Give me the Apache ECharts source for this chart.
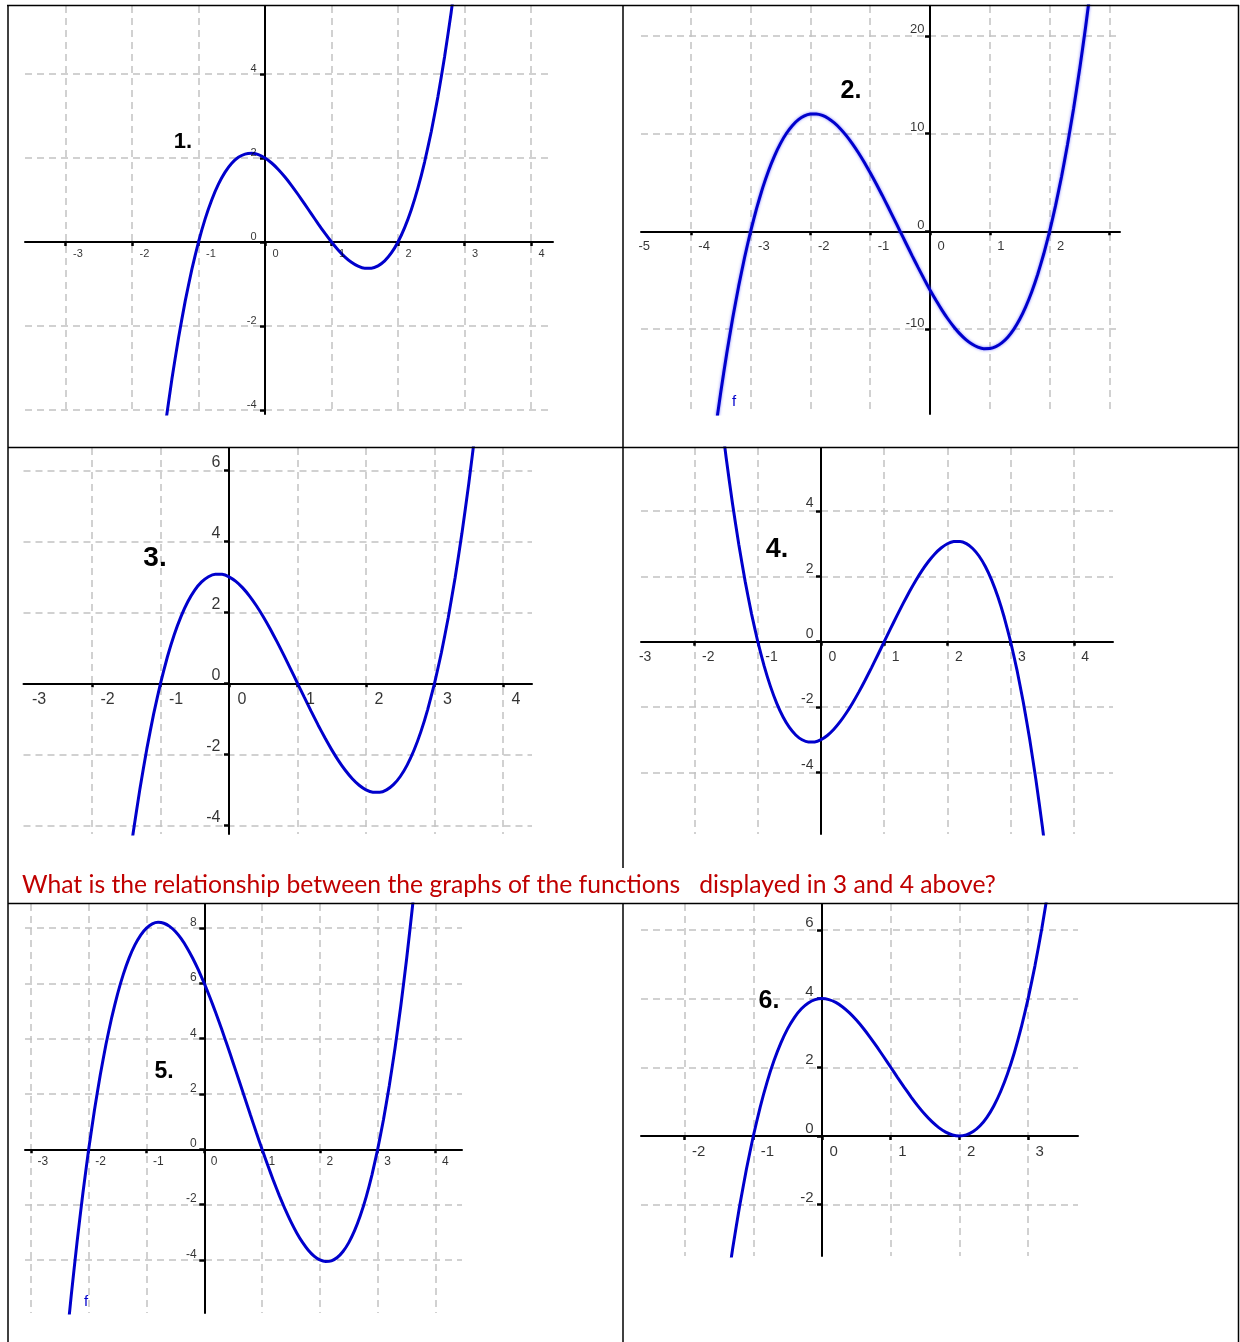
<!DOCTYPE html>
<html>
<head>
<meta charset="utf-8">
<script src="https://cdn.jsdelivr.net/npm/echarts@6/dist/echarts.min.js"></script>
<style>
html, body { margin: 0; padding: 0; background: #fff; }
#main { width: 1240px; height: 1342px; }
</style>
</head>
<body>
<div id="main"></div>
<script>
// points (x step 0.1)
const x1 = [-1.6, -1.5, -1.4, -1.3, -1.2, -1.1, -1, -0.9, -0.8, -0.7, -0.6, -0.5, -0.4, -0.3, -0.2, -0.1, 0, 0.1, 0.2, 0.3, 0.4, 0.5, 0.6, 0.7, 0.8, 0.9, 1, 1.1, 1.2, 1.3, 1.4, 1.5, 1.6, 1.7, 1.8, 1.9, 2, 2.1, 2.2, 2.3, 2.4, 2.5, 2.6, 2.7, 2.8, 2.9, 3];
const y1 = [-5.616, -4.375, -3.264, -2.277, -1.408, -0.651, 0, 0.551, 1.008, 1.377, 1.664, 1.875, 2.016, 2.093, 2.112, 2.079, 2, 1.881, 1.728, 1.547, 1.344, 1.125, 0.896, 0.663, 0.432, 0.209, 0, -0.189, -0.352, -0.483, -0.576, -0.625, -0.624, -0.567, -0.448, -0.261, 0, 0.341, 0.768, 1.287, 1.904, 2.625, 3.456, 4.403, 5.472, 6.669, 8];

const x2 = [-3.7, -3.6, -3.5, -3.4, -3.3, -3.2, -3.1, -3, -2.9, -2.8, -2.7, -2.6, -2.5, -2.4, -2.3, -2.2, -2.1, -2, -1.9, -1.8, -1.7, -1.6, -1.5, -1.4, -1.3, -1.2, -1.1, -1, -0.9, -0.8, -0.7, -0.6, -0.5, -0.4, -0.3, -0.2, -0.1, 0, 0.1, 0.2, 0.3, 0.4, 0.5, 0.6, 0.7, 0.8, 0.9, 1, 1.1, 1.2, 1.3, 1.4, 1.5, 1.6, 1.7, 1.8, 1.9, 2, 2.1, 2.2, 2.3, 2.4, 2.5, 2.6, 2.7];
const y2 = [-25.536, -20.832, -16.5, -12.528, -8.904, -5.616, -2.652, 0, 2.352, 4.416, 6.204, 7.728, 9, 10.032, 10.836, 11.424, 11.808, 12, 12.012, 11.856, 11.544, 11.088, 10.5, 9.792, 8.976, 8.064, 7.068, 6, 4.872, 3.696, 2.484, 1.248, 0, -1.248, -2.484, -3.696, -4.872, -6, -7.068, -8.064, -8.976, -9.792, -10.5, -11.088, -11.544, -11.856, -12.012, -12, -11.808, -11.424, -10.836, -10.032, -9, -7.728, -6.204, -4.416, -2.352, 0, 2.652, 5.616, 8.904, 12.528, 16.5, 20.832, 25.536];

const x3 = [-1.7, -1.6, -1.5, -1.4, -1.3, -1.2, -1.1, -1, -0.9, -0.8, -0.7, -0.6, -0.5, -0.4, -0.3, -0.2, -0.1, 0, 0.1, 0.2, 0.3, 0.4, 0.5, 0.6, 0.7, 0.8, 0.9, 1, 1.1, 1.2, 1.3, 1.4, 1.5, 1.6, 1.7, 1.8, 1.9, 2, 2.1, 2.2, 2.3, 2.4, 2.5, 2.6, 2.7, 2.8, 2.9, 3, 3.1, 3.2, 3.3, 3.4, 3.5, 3.6, 3.7];
const y3 = [-8.883, -7.176, -5.625, -4.224, -2.967, -1.848, -0.861, 0, 0.741, 1.368, 1.887, 2.304, 2.625, 2.856, 3.003, 3.072, 3.069, 3, 2.871, 2.688, 2.457, 2.184, 1.875, 1.536, 1.173, 0.792, 0.399, 0, -0.399, -0.792, -1.173, -1.536, -1.875, -2.184, -2.457, -2.688, -2.871, -3, -3.069, -3.072, -3.003, -2.856, -2.625, -2.304, -1.887, -1.368, -0.741, 0, 0.861, 1.848, 2.967, 4.224, 5.625, 7.176, 8.883];

const x4 = [-1.7, -1.6, -1.5, -1.4, -1.3, -1.2, -1.1, -1, -0.9, -0.8, -0.7, -0.6, -0.5, -0.4, -0.3, -0.2, -0.1, 0, 0.1, 0.2, 0.3, 0.4, 0.5, 0.6, 0.7, 0.8, 0.9, 1, 1.1, 1.2, 1.3, 1.4, 1.5, 1.6, 1.7, 1.8, 1.9, 2, 2.1, 2.2, 2.3, 2.4, 2.5, 2.6, 2.7, 2.8, 2.9, 3, 3.1, 3.2, 3.3, 3.4, 3.5, 3.6, 3.7];
const y4 = [8.883, 7.176, 5.625, 4.224, 2.967, 1.848, 0.861, 0, -0.741, -1.368, -1.887, -2.304, -2.625, -2.856, -3.003, -3.072, -3.069, -3, -2.871, -2.688, -2.457, -2.184, -1.875, -1.536, -1.173, -0.792, -0.399, 0, 0.399, 0.792, 1.173, 1.536, 1.875, 2.184, 2.457, 2.688, 2.871, 3, 3.069, 3.072, 3.003, 2.856, 2.625, 2.304, 1.887, 1.368, 0.741, 0, -0.861, -1.848, -2.967, -4.224, -5.625, -7.176, -8.883];

const x5 = [-2.4, -2.3, -2.2, -2.1, -2, -1.9, -1.8, -1.7, -1.6, -1.5, -1.4, -1.3, -1.2, -1.1, -1, -0.9, -0.8, -0.7, -0.6, -0.5, -0.4, -0.3, -0.2, -0.1, 0, 0.1, 0.2, 0.3, 0.4, 0.5, 0.6, 0.7, 0.8, 0.9, 1, 1.1, 1.2, 1.3, 1.4, 1.5, 1.6, 1.7, 1.8, 1.9, 2, 2.1, 2.2, 2.3, 2.4, 2.5, 2.6, 2.7, 2.8, 2.9, 3, 3.1, 3.2, 3.3, 3.4, 3.5, 3.6, 3.7];
const y5 = [-7.344, -5.247, -3.328, -1.581, 0, 1.421, 2.688, 3.807, 4.784, 5.625, 6.336, 6.923, 7.392, 7.749, 8, 8.151, 8.208, 8.177, 8.064, 7.875, 7.616, 7.293, 6.912, 6.479, 6, 5.481, 4.928, 4.347, 3.744, 3.125, 2.496, 1.863, 1.232, 0.609, 0, -0.589, -1.152, -1.683, -2.176, -2.625, -3.024, -3.367, -3.648, -3.861, -4, -4.059, -4.032, -3.913, -3.696, -3.375, -2.944, -2.397, -1.728, -0.931, 0, 1.071, 2.288, 3.657, 5.184, 6.875, 8.736, 10.773];

const x6 = [-1.4, -1.3, -1.2, -1.1, -1, -0.9, -0.8, -0.7, -0.6, -0.5, -0.4, -0.3, -0.2, -0.1, 0, 0.1, 0.2, 0.3, 0.4, 0.5, 0.6, 0.7, 0.8, 0.9, 1, 1.1, 1.2, 1.3, 1.4, 1.5, 1.6, 1.7, 1.8, 1.9, 2, 2.1, 2.2, 2.3, 2.4, 2.5, 2.6, 2.7, 2.8, 2.9, 3, 3.1, 3.2, 3.3, 3.4];
const y6 = [-4.624, -3.267, -2.048, -0.961, 0, 0.841, 1.568, 2.187, 2.704, 3.125, 3.456, 3.703, 3.872, 3.969, 4, 3.971, 3.888, 3.757, 3.584, 3.375, 3.136, 2.873, 2.592, 2.299, 2, 1.701, 1.408, 1.127, 0.864, 0.625, 0.416, 0.243, 0.112, 0.029, 0, 0.031, 0.128, 0.297, 0.544, 0.875, 1.296, 1.813, 2.432, 3.159, 4, 4.961, 6.048, 7.267, 8.624];

// ticks (also grid lines) and tick labels
const xTicks1 = [-3, -2, -1, 0, 1, 2, 3, 4], xLabels1 = [-3, -2, -1, 0, 1, 2, 3, 4];
const yTicks1 = [-4, -2, 0, 2, 4];
const xTicks2 = [-4, -3, -2, -1, 0, 1, 2, 3], xLabels2 = [-5, -4, -3, -2, -1, 0, 1, 2];
const yTicks2 = [-10, 0, 10, 20];
const xTicks3 = [-2, -1, 0, 1, 2, 3, 4], xLabels3 = [-3, -2, -1, 0, 1, 2, 3, 4];
const yTicks3 = [-4, -2, 0, 2, 4, 6];
const xTicks4 = [-2, -1, 0, 1, 2, 3, 4], xLabels4 = [-3, -2, -1, 0, 1, 2, 3, 4];
const yTicks4 = [-4, -2, 0, 2, 4];
const xTicks5 = [-3, -2, -1, 0, 1, 2, 3, 4], xLabels5 = [-3, -2, -1, 0, 1, 2, 3, 4];
const yTicks5 = [-4, -2, 0, 2, 4, 6, 8];
const xTicks6 = [-2, -1, 0, 1, 2, 3], xLabels6 = [-2, -1, 0, 1, 2, 3];
const yTicks6 = [-2, 0, 2, 4, 6];

const panelNames = ['1.', '2.', '3.', '4.', '5.', '6.'];
const question = 'What is the relationship between the graphs of the functions   displayed in 3 and 4 above?';

const BLUE = '#0000cc';
const FONT = '"Liberation Sans", Arial, sans-serif';

// layout of each plot: box = [left, top, width, height]; lx/ly = label offsets from tick
const panels = [
  { box: [25, 6, 528, 408], xr: [-3.609, 4.331], yr: [-4.095, 5.619], xs: x1, ys: y1, xt: xTicks1, xl: xLabels1, yt: yTicks1, fs: 11, lx: [8, 7], ly: [-8, 1] },
  { box: [641, 6, 479, 408], xr: [-4.833, 3.177], yr: [-18.70, 23.06], xs: x2, ys: y2, xt: xTicks2, xl: xLabels2, yt: yTicks2, fs: 13, lx: [8, 9], ly: [-5, 1], glow: true },
  { box: [23.5, 448, 508.5, 386], xr: [-3, 4.423], yr: [-4.245, 6.628], xs: x3, ys: y3, xt: xTicks3, xl: xLabels3, yt: yTicks3, fs: 16, lx: [9, 9], ly: [-8, 1] },
  { box: [641, 448, 472, 386], xr: [-2.848, 4.62], yr: [-5.889, 5.933], xs: x4, ys: y4, xt: xTicks4, xl: xLabels4, yt: yTicks4, fs: 14, lx: [8, 9], ly: [-7, 0] },
  { box: [25, 904, 437, 409], xr: [-3.102, 4.459], yr: [-5.92, 8.872], xs: x5, ys: y5, xt: xTicks5, xl: xLabels5, yt: yTicks5, fs: 12, lx: [7, 7], ly: [-7, 1] },
  { box: [641, 904, 437, 352], xr: [-2.635, 3.726], yr: [-3.494, 6.754], xs: x6, ys: y6, xt: xTicks6, xl: xLabels6, yt: yTicks6, fs: 15, lx: [8, 9], ly: [-8, 1] }
];

const grid = [], xAxis = [], yAxis = [], series = [];
const splitStyle = { color: '#c2c2c2', width: 1.5, type: [7, 5] };
const axisLineStyle = { color: '#000', width: 2 };
const labelBase = { show: true, color: '#000', fontFamily: FONT };

panels.forEach((p, i) => {
  grid.push({ left: p.box[0], top: p.box[1], width: p.box[2], height: p.box[3], containLabel: false, outerBoundsMode: 'none' });
  xAxis.push({
    type: 'value', gridIndex: i, min: p.xr[0], max: p.xr[1],
    axisLine: { show: true, onZero: true, lineStyle: axisLineStyle },
    axisTick: { show: true, customValues: p.xt, length: 4, lineStyle: { color: '#000', width: 2.5 } },
    axisLabel: { show: false },
    splitLine: { show: true, lineStyle: splitStyle }
  });
  yAxis.push({
    type: 'value', gridIndex: i, min: p.yr[0], max: p.yr[1],
    axisLine: { show: true, onZero: true, lineStyle: axisLineStyle },
    axisTick: { show: true, customValues: p.yt, length: 5, lineStyle: { color: '#000', width: 2.5 } },
    axisLabel: { show: false },
    splitLine: { show: true, lineStyle: splitStyle }
  });
  const lineStyle = { color: BLUE, width: 3 };
  if (p.glow) Object.assign(lineStyle, { shadowColor: 'rgba(90,90,255,0.8)', shadowBlur: 3 });
  series.push({
    type: 'line', xAxisIndex: i, yAxisIndex: i, smooth: 0.15, showSymbol: false, clip: true,
    lineStyle: lineStyle, z: 5,
    data: p.xs.map((x, k) => [x, p.ys[k]])
  });
  // tick labels sit next to the axes through the origin, GeoGebra style
  series.push({
    type: 'scatter', xAxisIndex: i, yAxisIndex: i, symbolSize: 1, clip: false, silent: true, z: 6,
    itemStyle: { color: 'rgba(0,0,0,0)' },
    data: p.xl.map(v => [v, 0]),
    label: Object.assign({}, labelBase, { position: p.lx, align: 'left', verticalAlign: 'top', fontSize: p.fs, formatter: d => String(d.value[0]) })
  });
  series.push({
    type: 'scatter', xAxisIndex: i, yAxisIndex: i, symbolSize: 1, clip: false, silent: true, z: 6,
    itemStyle: { color: 'rgba(0,0,0,0)' },
    data: p.yt.map(v => [0, v]),
    label: Object.assign({}, labelBase, { position: p.ly, align: 'right', verticalAlign: 'bottom', fontSize: p.fs, formatter: d => String(d.value[1]) })
  });
});

// panel numbers, curve names and the question
const numPos = [[183, 142, 22], [851, 91, 25], [155, 558, 28], [777, 550, 27], [164, 1072, 23], [769, 1001, 25]];
const graphic = [];
panelNames.forEach((t, i) => {
  graphic.push({ type: 'text', x: numPos[i][0], y: numPos[i][1], z: 10,
    style: { text: t, font: `bold ${numPos[i][2]}px ${FONT}`, fill: '#000', align: 'center', verticalAlign: 'middle' } });
});
graphic.push({ type: 'text', x: 734, y: 402, style: { text: 'f', font: `15px ${FONT}`, fill: BLUE, align: 'center', verticalAlign: 'middle' } });
graphic.push({ type: 'text', x: 86, y: 1302, style: { text: 'f', font: `15px ${FONT}`, fill: BLUE, align: 'center', verticalAlign: 'middle' } });
graphic.push({ type: 'text', x: 22, y: 885, style: { text: question, font: '24.7px Lato, "Liberation Sans", sans-serif', fill: '#c00000', verticalAlign: 'middle' } });

// table borders
const borders = [
  [7, 5.5, 1239, 5.5], [8, 5, 8, 1342], [1238.5, 5, 1238.5, 1342],
  [623, 5, 623, 868], [623, 903, 623, 1342],
  [8, 447.5, 1239, 447.5], [8, 903.5, 1239, 903.5]
];
borders.forEach(b => {
  graphic.push({ type: 'line', z: 20, shape: { x1: b[0], y1: b[1], x2: b[2], y2: b[3] }, style: { stroke: '#000', lineWidth: 1.5 } });
});

const chart = echarts.init(document.getElementById('main'), null, { renderer: 'canvas' });
chart.setOption({
  animation: false,
  backgroundColor: '#fff',
  grid, xAxis, yAxis, series, graphic
});
</script>
</body>
</html>
